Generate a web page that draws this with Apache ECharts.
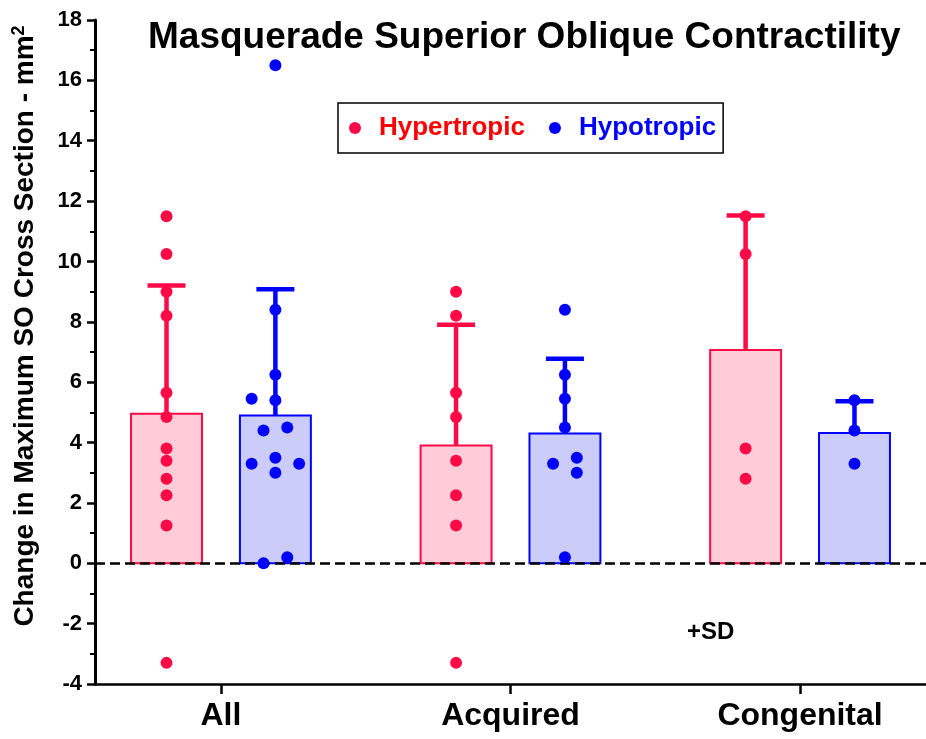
<!DOCTYPE html>
<html>
<head>
<meta charset="utf-8">
<script src="https://cdn.jsdelivr.net/npm/echarts@6/dist/echarts.min.js"></script>
<style>
  html, body { margin: 0; padding: 0; background: #fff; }
  #main { width: 926px; height: 739px; }
</style>
</head>
<body>
<div id="main"></div>
<script>
// groups on the x axis
const groups = ['All', 'Acquired', 'Congenital']

// bar heights (mean) and +SD for each group
const hyperMean = [4.95, 3.9, 7.07]
const hyperSD = [4.25, 4.0, 4.45]
const hypoMean = [4.9, 4.3, 4.32]
const hypoSD = [4.18, 2.48, 1.05]

// individual patients
const hyperPoints = [
  [11.5, 10.25, 9.0, 8.2, 5.65, 4.85, 3.8, 3.4, 2.8, 2.25, 1.25, -3.3],
  [9.0, 8.2, 5.65, 4.85, 3.4, 2.25, 1.25, -3.3],
  [11.5, 10.25, 3.8, 2.8]
]
const hypoPoints = [
  [16.5, 8.4, 6.25, 5.45, 5.4, 4.5, 4.4, 3.5, 3.3, 3.3, 3.0, 0.2, 0.0],
  [8.4, 6.25, 5.45, 4.5, 3.3, 3.5, 3.0, 0.2],
  [5.4, 4.4, 3.3]
]
// horizontal scatter slot of each hypotropic point (-2..2)
const hypoJitter = [
  [0, 0, 0, -2, 0, 1, -1, 0, -2, 2, 0, 1, -1],
  [0, 0, 0, 0, -1, 1, 1, 0],
  [0, 0, 0]
]

const yTicks = [-4, 18, 2]  // min, max, step

// layout in category units
const OFFSET = 0.188
const BAR_W = 0.245
const JITTER = 0.041
const CAP_PX = 19

const RED = '#ff0a47'
const BLUE = '#0000ff'
const FONT = 'Liberation Sans, Arial, sans-serif'

const chart = echarts.init(document.getElementById('main'))

function barSeries(name, means, dx, fill, stroke) {
  return {
    name: name,
    type: 'custom',
    z: 2,
    silent: true,
    data: means.map((m, i) => [i + dx, m]),
    renderItem: (params, api) => {
      const x = api.value(0)
      const y = api.value(1)
      const p0 = api.coord([x - BAR_W / 2, y])
      const p1 = api.coord([x + BAR_W / 2, 0])
      return {
        type: 'rect',
        shape: { x: p0[0], y: p0[1], width: p1[0] - p0[0], height: p1[1] - p0[1] },
        style: { fill: fill, stroke: stroke, lineWidth: 2 }
      }
    }
  }
}

function errSeries(name, means, sds, dx, color) {
  return {
    name: name,
    type: 'custom',
    z: 3,
    silent: true,
    data: means.map((m, i) => [i + dx, m, m + sds[i]]),
    renderItem: (params, api) => {
      const x = api.value(0)
      const pb = api.coord([x, api.value(1)])
      const pt = api.coord([x, api.value(2)])
      const st = { stroke: color, lineWidth: 4.5 }
      return {
        type: 'group',
        children: [
          { type: 'line', shape: { x1: pb[0], y1: pb[1], x2: pt[0], y2: pt[1] }, style: st },
          { type: 'line', shape: { x1: pt[0] - CAP_PX, y1: pt[1], x2: pt[0] + CAP_PX, y2: pt[1] }, style: st }
        ]
      }
    }
  }
}

function pointData(points, dx, jitter) {
  const out = []
  points.forEach((arr, i) => {
    arr.forEach((v, k) => {
      const j = jitter ? jitter[i][k] : 0
      out.push([i + dx + j * JITTER, v])
    })
  })
  return out
}

const option = {
  animation: false,
  backgroundColor: '#fff',
  title: {
    text: 'Masquerade Superior Oblique Contractility',
    left: 143,
    top: 14,
    textStyle: { fontFamily: FONT, fontSize: 37, fontWeight: 'bold', color: '#000' }
  },
  legend: {
    left: 338,
    top: 103,
    padding: [12, 7, 12, 11],
    borderColor: '#000',
    borderWidth: 1.5,
    itemWidth: 12,
    itemHeight: 12,
    itemGap: 24,
    icon: 'circle',
    textStyle: { fontFamily: FONT, fontSize: 26, fontWeight: 'bold', padding: [0, 0, 0, 13] },
    data: [
      { name: 'Hypertropic', textStyle: { color: '#ff0000' } },
      { name: 'Hypotropic', textStyle: { color: '#0000ff' } }
    ]
  },
  grid: { left: 95, right: 0, top: 20, bottom: 55, outerBoundsMode: 'none' },
  xAxis: {
    type: 'value',
    min: -0.435,
    max: 2.435,
    splitLine: { show: false },
    axisLine: { show: true, onZero: false, lineStyle: { color: '#000', width: 2.5 } },
    axisTick: { show: true, customValues: [0, 1, 2], length: 10, lineStyle: { color: '#000', width: 2.5 } },
    axisLabel: {
      customValues: [0, 1, 2],
      formatter: (v) => groups[Math.round(v)],
      margin: 16,
      fontFamily: FONT,
      fontSize: 32,
      fontWeight: 'bold',
      color: '#000'
    }
  },
  yAxis: {
    type: 'value',
    min: yTicks[0],
    max: yTicks[1],
    interval: yTicks[2],
    name: 'Change in Maximum SO Cross Section - mm{sup|2}',
    nameLocation: 'middle',
    nameGap: 55,
    nameTextStyle: {
      fontFamily: FONT,
      fontSize: 28,
      fontWeight: 'bold',
      color: '#000',
      padding: [0, 0, 0, 52],
      rich: {
        sup: { fontFamily: FONT, fontSize: 18, fontWeight: 'bold', color: '#000', padding: [0, 0, 12, 0] }
      }
    },
    splitLine: { show: false },
    axisLine: { show: true, onZero: false, lineStyle: { color: '#000', width: 3 } },
    axisTick: { show: true, length: 8, lineStyle: { color: '#000', width: 2.5 } },
    minorTick: { show: true, splitNumber: 2, length: 5, lineStyle: { color: '#000', width: 2 } },
    axisLabel: { margin: 13, fontFamily: FONT, fontSize: 22, fontWeight: 'bold', color: '#000' }
  },
  graphic: [{
    type: 'text',
    left: 687,
    top: 620,
    style: { text: '+SD', fontFamily: FONT, fontSize: 24, fontWeight: 'bold', fill: '#000' }
  }],
  series: [
    {
      name: 'Hypertropic',
      type: 'scatter',
      z: 10,
      symbolSize: 12,
      itemStyle: { color: RED, opacity: 1 },
      data: pointData(hyperPoints, -OFFSET, null)
    },
    {
      name: 'Hypotropic',
      type: 'scatter',
      z: 10,
      symbolSize: 12,
      itemStyle: { color: BLUE, opacity: 1 },
      data: pointData(hypoPoints, OFFSET, hypoJitter),
      markLine: {
        silent: true,
        symbol: 'none',
        z: 5,
        label: { show: false },
        lineStyle: { color: '#000', width: 2.5, type: [10, 5] },
        data: [{ yAxis: 0 }]
      }
    },
    barSeries('Hypertropic mean', hyperMean, -OFFSET, '#ffccd8', RED),
    barSeries('Hypotropic mean', hypoMean, OFFSET, '#ccccfa', BLUE),
    errSeries('Hypertropic SD', hyperMean, hyperSD, -OFFSET, RED),
    errSeries('Hypotropic SD', hypoMean, hypoSD, OFFSET, BLUE)
  ]
}

chart.setOption(option)
</script>
</body>
</html>
